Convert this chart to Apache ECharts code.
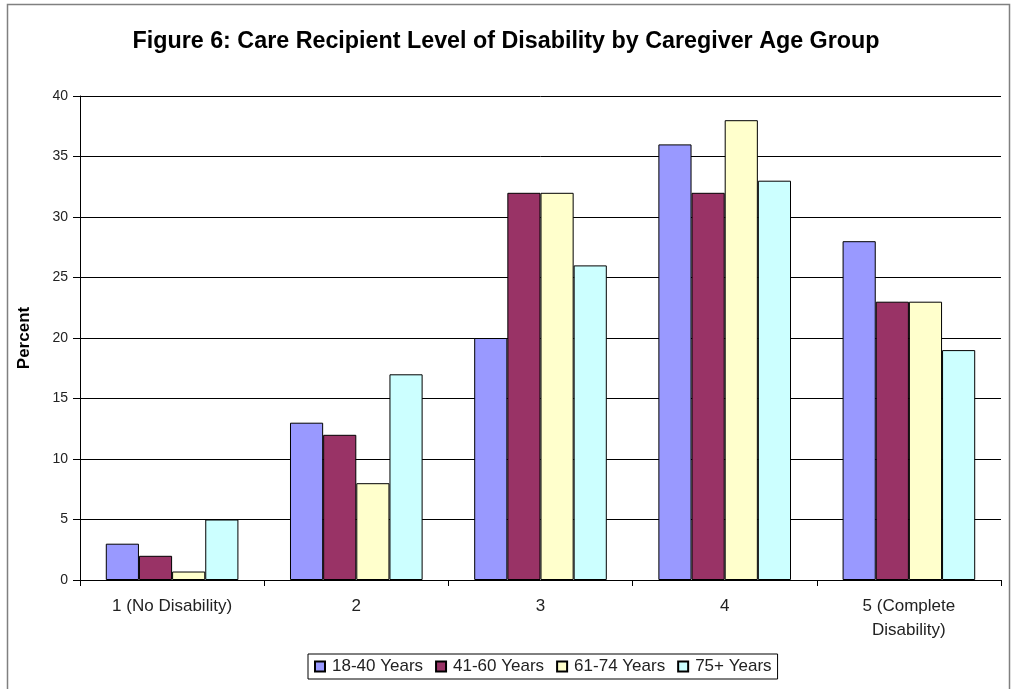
<!DOCTYPE html>
<html><head><meta charset="utf-8">
<script src="https://cdn.jsdelivr.net/npm/echarts@6/dist/echarts.min.js"></script>
<style>html,body{margin:0;padding:0;background:#fff}#c{width:1012px;height:689px}</style>
</head><body><div id="c"></div>
<script>
const categories = ['1 (No Disability)', '2', '3', '4', '5 (Complete\nDisability)'];
const seriesNames = ['18-40 Years', '41-60 Years', '61-74 Years', '75+ Years'];
const s1840 = [3, 13, 20, 36, 28];
const s4160 = [2, 12, 32, 32, 23];
const s6174 = [0.7, 8, 32, 38, 23];
const s75 = [5, 17, 26, 33, 19];
const yTicks = [0, 5, 10, 15, 20, 25, 30, 35, 40];

const colors = ['#9999FF', '#993366', '#FFFFCC', '#CCFFFF'];
const values = [s1840, s4160, s6174, s75];
const font = 'Liberation Sans, Arial, sans-serif';
const chart = echarts.init(document.getElementById('c'));
chart.setOption({
  animation: false,
  backgroundColor: '#fff',
  title: {
    text: 'Figure 6: Care Recipient Level of Disability by Caregiver Age Group',
    left: 'center', top: 25,
    textStyle: { fontFamily: font, fontWeight: 'bold', fontSize: 23.3, color: '#000' }
  },
  graphic: [{
    type: 'rect', left: 5, top: 2, shape: { width: 1002, height: 700 },
    style: { fill: 'none', stroke: '#808080', lineWidth: 1.5 }, silent: true, z: -1
  }],
  legend: {
    bottom: 10, left: 308,
    itemWidth: 10, itemHeight: 10, itemGap: 12,
    borderColor: '#000', borderWidth: 1, padding: [4, 6, 4, 6],
    textStyle: { fontFamily: font, fontSize: 17, color: '#222', padding: [0, 0, 0, 2] },
    data: seriesNames.map(n => ({ name: n, icon: 'rect' }))
  },
  grid: { left: 80, right: 11, top: 96, bottom: 109 },
  xAxis: {
    type: 'category', data: categories,
    axisLine: { lineStyle: { color: '#000', width: 1 } },
    axisTick: { show: true, length: 6, lineStyle: { color: '#000' } },
    axisLabel: { fontFamily: font, fontSize: 17, color: '#222', margin: 14, lineHeight: 24 }
  },
  yAxis: {
    type: 'value', min: 0, max: 40, interval: 5,
    name: 'Percent', nameLocation: 'middle', nameGap: 47, nameRotate: 90,
    nameTextStyle: { fontFamily: font, fontWeight: 'bold', fontSize: 17, color: '#000' },
    axisLine: { show: true, lineStyle: { color: '#000' } },
    axisTick: { show: true, length: 7, lineStyle: { color: '#000' } },
    axisLabel: { fontFamily: font, fontSize: 14, color: '#222', margin: 12,
      formatter: v => yTicks.includes(v) ? String(v) : '' },
    splitLine: { show: true, lineStyle: { color: '#000', width: 1 } }
  },
  series: seriesNames.map((n, i) => ({
    name: n, type: 'bar', data: values[i],
    barGap: '0%', barCategoryGap: '28%',
    itemStyle: { color: colors[i], borderColor: '#000', borderWidth: 1 }
  }))
});
</script></body></html>
